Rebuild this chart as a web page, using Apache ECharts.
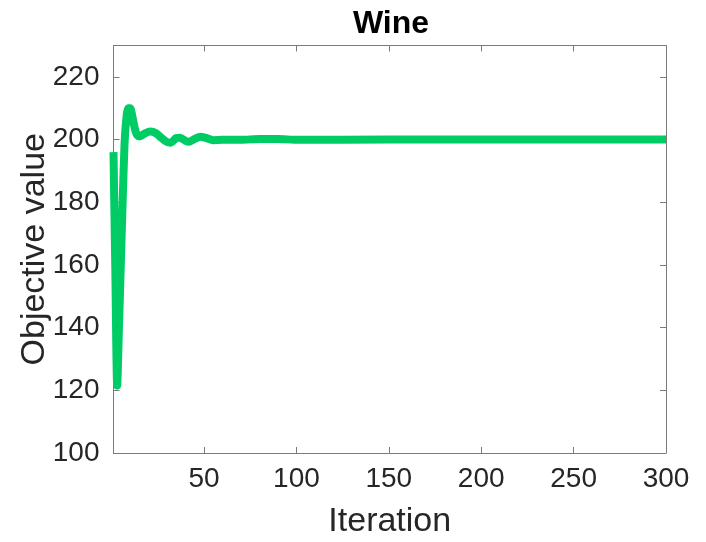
<!DOCTYPE html>
<html>
<head>
<meta charset="utf-8">
<script src="https://cdn.jsdelivr.net/npm/echarts@6/dist/echarts.min.js"></script>
<style>
html,body{margin:0;padding:0;background:#fff;}
#chart{width:706px;height:542px;}
</style>
</head>
<body>
<div id="chart"></div>
<script>
var chartTitle = 'Wine';
var xName = 'Iteration';
var yName = 'Objective value';
var iterations = [1, 2, 3, 4, 5, 6, 7, 8, 9, 10, 11, 12, 13, 14, 15, 16, 18, 21, 24, 27, 30, 32, 35, 37, 40, 42, 45, 48, 51, 55, 60, 70, 80, 90, 100, 150, 200, 250, 300];
var objectiveValues = [196, 158, 121.5, 141, 161, 181, 199, 207, 210, 210, 208, 205, 202.5, 201.3, 201, 201.2, 202, 202.6, 202, 200.5, 199.2, 199, 200.5, 200.6, 199.6, 199.3, 200.2, 200.9, 200.5, 199.8, 199.9, 199.9, 200.2, 200.2, 199.9, 200, 200, 200, 200];
var xTicks = [50, 100, 150, 200, 250, 300];
var yTicks = [100, 120, 140, 160, 180, 200, 220];

var seriesData = iterations.map(function (x, i) { return [x, objectiveValues[i]]; });
var font = 'Liberation Sans, Arial, Helvetica, sans-serif';
var boxColor = '#7a7a7a';
var textColor = '#262626';

var chart = echarts.init(document.getElementById('chart'), null, {renderer: 'canvas'});
chart.setOption({
  animation: false,
  backgroundColor: '#ffffff',
  title: {
    text: chartTitle,
    left: 386,
    textAlign: 'center',
    top: 3,
    textStyle: {fontFamily: font, fontSize: 32, fontWeight: 'bold', color: '#000'}
  },
  grid: {left: 113.5, right: 40, top: 45.5, bottom: 89, outerBoundsMode: 'none', containLabel: false},
  xAxis: [{
    type: 'value', min: 1, max: 300, position: 'bottom',
    name: xName, nameLocation: 'middle', nameGap: 52,
    nameTextStyle: {fontFamily: font, fontSize: 34, color: textColor},
    axisLine: {show: true, onZero: false, lineStyle: {color: boxColor, width: 1}},
    axisTick: {show: true, inside: true, length: 6, customValues: xTicks, lineStyle: {color: boxColor}},
    axisLabel: {show: true, customValues: xTicks, margin: 12, fontFamily: font, fontSize: 28, color: textColor},
    splitLine: {show: false}
  }, {
    type: 'value', min: 1, max: 300, position: 'top',
    axisLine: {show: true, onZero: false, lineStyle: {color: boxColor, width: 1}},
    axisTick: {show: true, inside: true, length: 6, customValues: xTicks, lineStyle: {color: boxColor}},
    axisLabel: {show: false},
    splitLine: {show: false}
  }],
  yAxis: [{
    type: 'value', min: 100, max: 230, position: 'left',
    name: yName, nameLocation: 'middle', nameGap: 62, nameRotate: 90, nameMoveOverlap: false,
    nameTextStyle: {fontFamily: font, fontSize: 34, color: textColor},
    axisLine: {show: true, onZero: false, lineStyle: {color: boxColor, width: 1}},
    axisTick: {show: true, inside: true, length: 6, customValues: yTicks, lineStyle: {color: boxColor}},
    axisLabel: {show: true, customValues: yTicks, margin: 14, fontFamily: font, fontSize: 28, color: textColor},
    splitLine: {show: false}
  }, {
    type: 'value', min: 100, max: 230, position: 'right',
    axisLine: {show: true, onZero: false, lineStyle: {color: boxColor, width: 1}},
    axisTick: {show: true, inside: true, length: 6, customValues: yTicks, lineStyle: {color: boxColor}},
    axisLabel: {show: false},
    splitLine: {show: false}
  }],
  series: [{
    type: 'line',
    xAxisIndex: 0,
    yAxisIndex: 0,
    data: seriesData,
    showSymbol: false,
    symbol: 'none',
    smooth: 0.25,
    lineStyle: {color: '#00cc66', width: 8, cap: 'butt', join: 'round'},
    z: 1
  }]
});
</script>
</body>
</html>
